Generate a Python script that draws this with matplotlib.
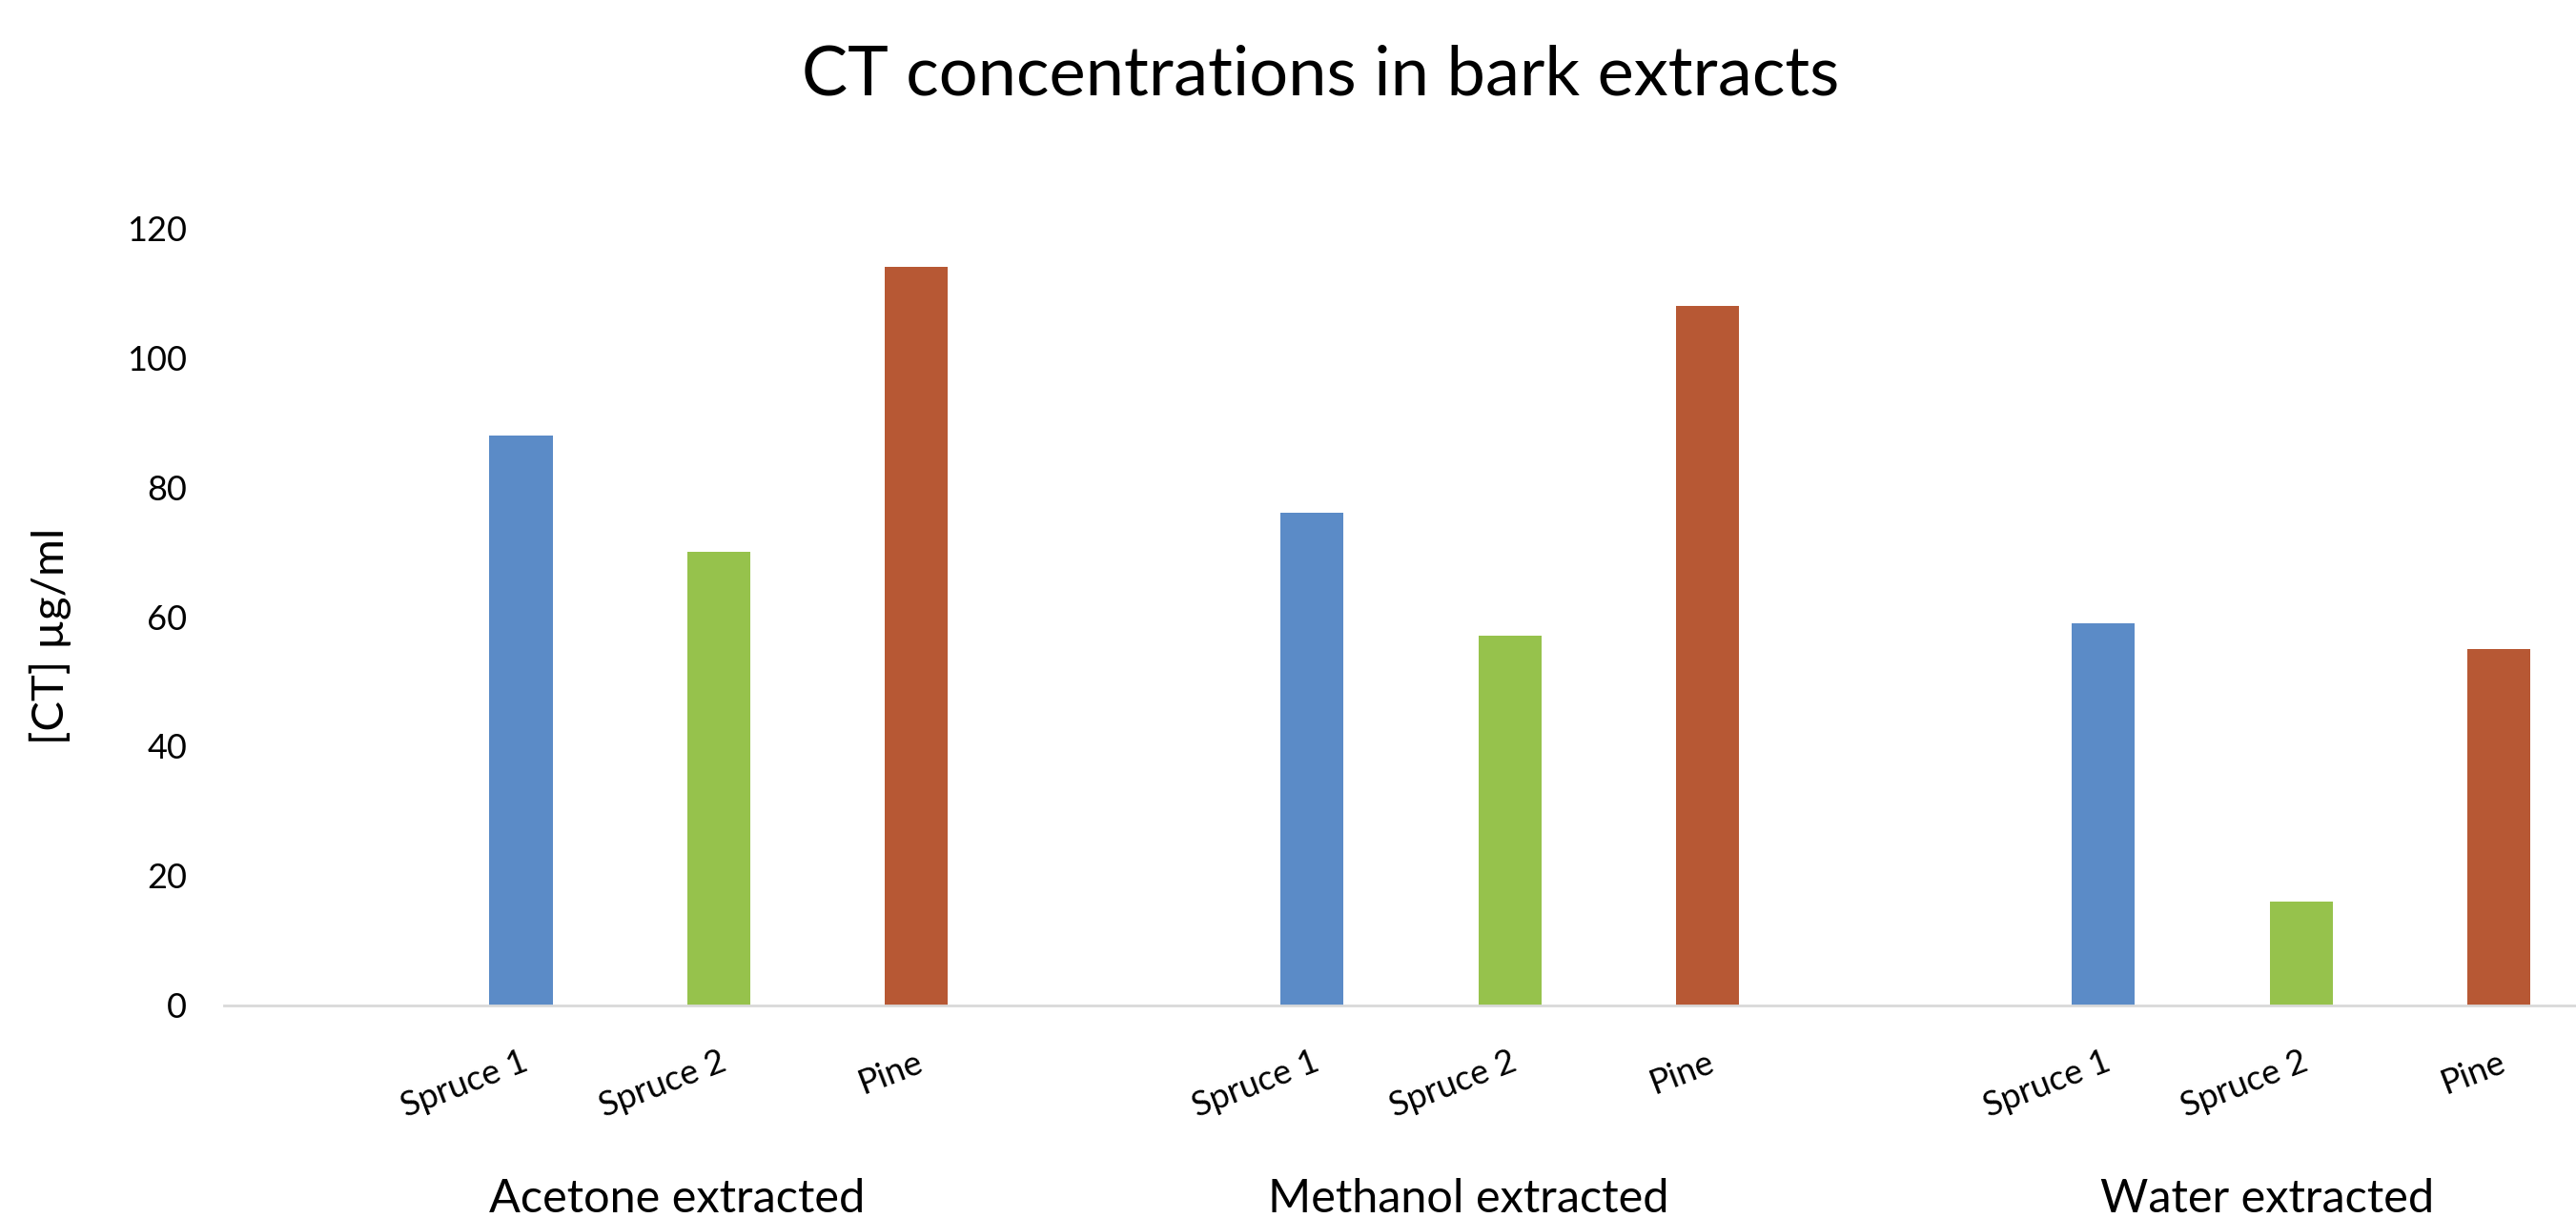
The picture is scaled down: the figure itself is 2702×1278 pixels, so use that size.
import numpy as np
import matplotlib.pyplot as plt

plt.rcParams['font.family'] = ['Lato', 'DejaVu Sans']

# data
groups = ["Acetone extracted", "Methanol extracted", "Water extracted"]
samples = ["Spruce 1", "Spruce 2", "Pine"]
acetone = [88, 70, 114]
methanol = [76, 57, 108]
water = [59, 16, 55]
colors = ["#5B8BC7", "#96C24C", "#B75834"]

values = [acetone, methanol, water]

fig = plt.figure(figsize=(27.02, 12.78), dpi=100)
ax = fig.add_axes([0.087, 0.1748, 0.9215, 0.6378])

# each group takes 4 slots, the first one left empty (as in the original sheet)
slots_per_group = 4
positions = []
labels = []
for g, vals in enumerate(values):
    for s, v in enumerate(vals):
        x = g * slots_per_group + s + 1
        ax.bar(x, v, width=0.32, color=colors[s], zorder=2)
        positions.append(x)
        labels.append(samples[s])

ax.set_xlim(-0.5, len(groups) * slots_per_group - 0.5)
ax.set_ylim(0, 120)
ax.set_yticks(np.arange(0, 121, 20))
ax.tick_params(axis="y", length=0, labelsize=26, pad=28)
ax.set_xticks(positions)
ax.set_xticklabels(labels, rotation=21, ha="right", rotation_mode="anchor",
                   fontsize=26)
ax.tick_params(axis="x", length=0, pad=31)

for side in ["top", "right", "left"]:
    ax.spines[side].set_visible(False)
ax.spines["bottom"].set_color("#D9D9D9")
ax.spines["bottom"].set_linewidth(2)

fig.text(0.0197, 0.478, "[CT] µg/ml", rotation=90,
         ha="center", va="center", fontsize=34)

# group labels below the sample names
group_x = [1.79, 5.79, 9.83]
for gx, name in zip(group_x, groups):
    ax.text(gx, -0.25, name, transform=ax.get_xaxis_transform(),
            ha="center", va="center", fontsize=35)

fig.text(0.5125, 0.938, "CT concentrations in bark extracts",
         ha="center", va="center", fontsize=52)

fig.savefig("out.png", dpi=100, facecolor="white")
